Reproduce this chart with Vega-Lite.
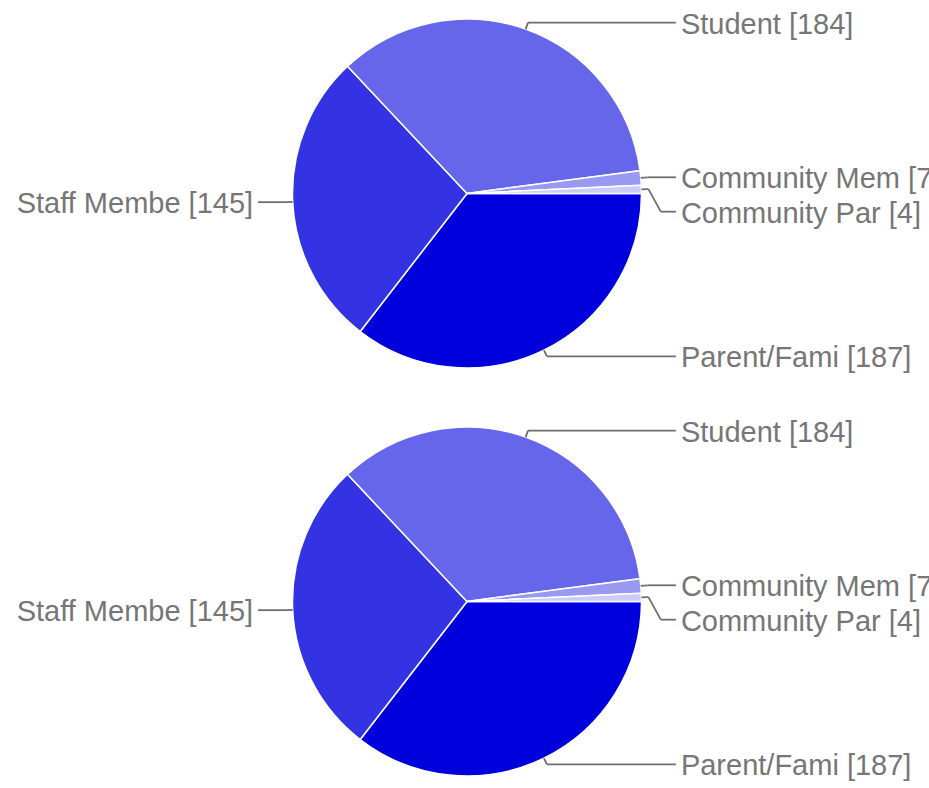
{
  "$schema": "https://vega.github.io/schema/vega-lite/v6.json",
  "padding": 0,
  "spacing": 21,
  "bounds": "flush",
  "config": {"view": {"stroke": null}, "axis": {"disable": true}},
  "data": {"values": [
    {"category": "Parent/Fami", "value": 187, "label": "Parent/Fami [187]", "order": 1},
    {"category": "Staff Membe", "value": 145, "label": "Staff Membe [145]", "order": 2},
    {"category": "Student", "value": 184, "label": "Student [184]", "order": 3},
    {"category": "Community Mem", "value": 7, "label": "Community Mem [7]", "order": 4},
    {"category": "Community Par", "value": 4, "label": "Community Par [4]", "order": 5}
  ]},
  "vconcat": [
    {
      "width": 934, "height": 387,
      "transform": [
        {"joinaggregate": [{"op": "sum", "field": "value", "as": "total"}]},
        {"window": [{"op": "sum", "field": "value", "as": "cum"}], "sort": [{"field": "order", "order": "ascending"}], "frame": [null, 0]},
        {"calculate": "PI/2 + 2*PI*(datum.cum - datum.value/2)/datum.total", "as": "mid"},
        {"calculate": "sin(datum.mid)", "as": "sx"},
        {"calculate": "cos(datum.mid)", "as": "cy"},
        {"calculate": "datum.sx >= 0 ? 1 : -1", "as": "side"},
        {"calculate": "1.04*datum.sx", "as": "px"},
        {"calculate": "1.04*datum.cy", "as": "ny"},
        {"window": [{"op": "lag", "field": "ny", "as": "prevNy"}], "groupby": ["side"], "sort": [{"field": "ny", "order": "descending"}]},
        {"calculate": "isValid(datum.prevNy) ? min(datum.ny, datum.prevNy - 0.197) : datum.ny", "as": "ly"},
        {"calculate": "datum.px + datum.side*abs(datum.ly - datum.ny)*0.55", "as": "qx"},
        {"calculate": "datum.side*1.197", "as": "ex"}
      ],
      "layer": [
        {
          "mark": {"type": "arc", "outerRadius": 174.5, "stroke": "white", "strokeWidth": 1.5},
          "encoding": {
            "theta": {"field": "value", "type": "quantitative", "stack": true, "scale": {"range": [1.5707963, 7.8539816]}},
            "order": {"field": "order", "type": "quantitative"},
            "color": {"field": "category", "type": "nominal", "legend": null,
              "scale": {"domain": ["Parent/Fami", "Staff Membe", "Student", "Community Mem", "Community Par"],
                        "range": ["#0000dd", "#3333e4", "#6666eb", "#9999f1", "#ccccf8"]}}
          }
        },
        {
          "mark": {"type": "rule", "color": "#6e6e6e", "strokeWidth": 1.8},
          "encoding": {
            "x": {"field": "sx", "type": "quantitative", "scale": {"domain": [-2.67622, 2.67622], "nice": false, "zero": false}},
            "y": {"field": "cy", "type": "quantitative", "scale": {"domain": [-1.10888, 1.10888], "nice": false, "zero": false}},
            "x2": {"field": "px"},
            "y2": {"field": "ny"}
          }
        },
        {
          "mark": {"type": "rule", "color": "#6e6e6e", "strokeWidth": 1.8},
          "encoding": {
            "x": {"field": "px", "type": "quantitative", "scale": {"domain": [-2.67622, 2.67622], "nice": false, "zero": false}},
            "y": {"field": "ny", "type": "quantitative", "scale": {"domain": [-1.10888, 1.10888], "nice": false, "zero": false}},
            "x2": {"field": "qx"},
            "y2": {"field": "ly"}
          }
        },
        {
          "mark": {"type": "rule", "color": "#6e6e6e", "strokeWidth": 1.8},
          "encoding": {
            "x": {"field": "qx", "type": "quantitative", "scale": {"domain": [-2.67622, 2.67622], "nice": false, "zero": false}},
            "y": {"field": "ly", "type": "quantitative", "scale": {"domain": [-1.10888, 1.10888], "nice": false, "zero": false}},
            "x2": {"field": "ex"},
            "y2": {"field": "ly"}
          }
        },
        {
          "transform": [{"filter": "datum.side > 0"}],
          "mark": {"type": "text", "align": "left", "baseline": "middle", "dx": 5, "dy": 2, "font": "Liberation Sans", "fontSize": 29, "color": "#767676"},
          "encoding": {
            "x": {"field": "ex", "type": "quantitative", "scale": {"domain": [-2.67622, 2.67622], "nice": false, "zero": false}},
            "y": {"field": "ly", "type": "quantitative", "scale": {"domain": [-1.10888, 1.10888], "nice": false, "zero": false}},
            "text": {"field": "label"}
          }
        },
        {
          "transform": [{"filter": "datum.side < 0"}],
          "mark": {"type": "text", "align": "right", "baseline": "middle", "dx": -5, "dy": 2, "font": "Liberation Sans", "fontSize": 29, "color": "#767676"},
          "encoding": {
            "x": {"field": "ex", "type": "quantitative", "scale": {"domain": [-2.67622, 2.67622], "nice": false, "zero": false}},
            "y": {"field": "ly", "type": "quantitative", "scale": {"domain": [-1.10888, 1.10888], "nice": false, "zero": false}},
            "text": {"field": "label"}
          }
        }
      ]
    },
    {
      "width": 934, "height": 387,
      "transform": [
        {"joinaggregate": [{"op": "sum", "field": "value", "as": "total"}]},
        {"window": [{"op": "sum", "field": "value", "as": "cum"}], "sort": [{"field": "order", "order": "ascending"}], "frame": [null, 0]},
        {"calculate": "PI/2 + 2*PI*(datum.cum - datum.value/2)/datum.total", "as": "mid"},
        {"calculate": "sin(datum.mid)", "as": "sx"},
        {"calculate": "cos(datum.mid)", "as": "cy"},
        {"calculate": "datum.sx >= 0 ? 1 : -1", "as": "side"},
        {"calculate": "1.04*datum.sx", "as": "px"},
        {"calculate": "1.04*datum.cy", "as": "ny"},
        {"window": [{"op": "lag", "field": "ny", "as": "prevNy"}], "groupby": ["side"], "sort": [{"field": "ny", "order": "descending"}]},
        {"calculate": "isValid(datum.prevNy) ? min(datum.ny, datum.prevNy - 0.197) : datum.ny", "as": "ly"},
        {"calculate": "datum.px + datum.side*abs(datum.ly - datum.ny)*0.55", "as": "qx"},
        {"calculate": "datum.side*1.197", "as": "ex"}
      ],
      "layer": [
        {
          "mark": {"type": "arc", "outerRadius": 174.5, "stroke": "white", "strokeWidth": 1.5},
          "encoding": {
            "theta": {"field": "value", "type": "quantitative", "stack": true, "scale": {"range": [1.5707963, 7.8539816]}},
            "order": {"field": "order", "type": "quantitative"},
            "color": {"field": "category", "type": "nominal", "legend": null,
              "scale": {"domain": ["Parent/Fami", "Staff Membe", "Student", "Community Mem", "Community Par"],
                        "range": ["#0000dd", "#3333e4", "#6666eb", "#9999f1", "#ccccf8"]}}
          }
        },
        {
          "mark": {"type": "rule", "color": "#6e6e6e", "strokeWidth": 1.8},
          "encoding": {
            "x": {"field": "sx", "type": "quantitative", "scale": {"domain": [-2.67622, 2.67622], "nice": false, "zero": false}},
            "y": {"field": "cy", "type": "quantitative", "scale": {"domain": [-1.10888, 1.10888], "nice": false, "zero": false}},
            "x2": {"field": "px"},
            "y2": {"field": "ny"}
          }
        },
        {
          "mark": {"type": "rule", "color": "#6e6e6e", "strokeWidth": 1.8},
          "encoding": {
            "x": {"field": "px", "type": "quantitative", "scale": {"domain": [-2.67622, 2.67622], "nice": false, "zero": false}},
            "y": {"field": "ny", "type": "quantitative", "scale": {"domain": [-1.10888, 1.10888], "nice": false, "zero": false}},
            "x2": {"field": "qx"},
            "y2": {"field": "ly"}
          }
        },
        {
          "mark": {"type": "rule", "color": "#6e6e6e", "strokeWidth": 1.8},
          "encoding": {
            "x": {"field": "qx", "type": "quantitative", "scale": {"domain": [-2.67622, 2.67622], "nice": false, "zero": false}},
            "y": {"field": "ly", "type": "quantitative", "scale": {"domain": [-1.10888, 1.10888], "nice": false, "zero": false}},
            "x2": {"field": "ex"},
            "y2": {"field": "ly"}
          }
        },
        {
          "transform": [{"filter": "datum.side > 0"}],
          "mark": {"type": "text", "align": "left", "baseline": "middle", "dx": 5, "dy": 2, "font": "Liberation Sans", "fontSize": 29, "color": "#767676"},
          "encoding": {
            "x": {"field": "ex", "type": "quantitative", "scale": {"domain": [-2.67622, 2.67622], "nice": false, "zero": false}},
            "y": {"field": "ly", "type": "quantitative", "scale": {"domain": [-1.10888, 1.10888], "nice": false, "zero": false}},
            "text": {"field": "label"}
          }
        },
        {
          "transform": [{"filter": "datum.side < 0"}],
          "mark": {"type": "text", "align": "right", "baseline": "middle", "dx": -5, "dy": 2, "font": "Liberation Sans", "fontSize": 29, "color": "#767676"},
          "encoding": {
            "x": {"field": "ex", "type": "quantitative", "scale": {"domain": [-2.67622, 2.67622], "nice": false, "zero": false}},
            "y": {"field": "ly", "type": "quantitative", "scale": {"domain": [-1.10888, 1.10888], "nice": false, "zero": false}},
            "text": {"field": "label"}
          }
        }
      ]
    }
  ]
}
